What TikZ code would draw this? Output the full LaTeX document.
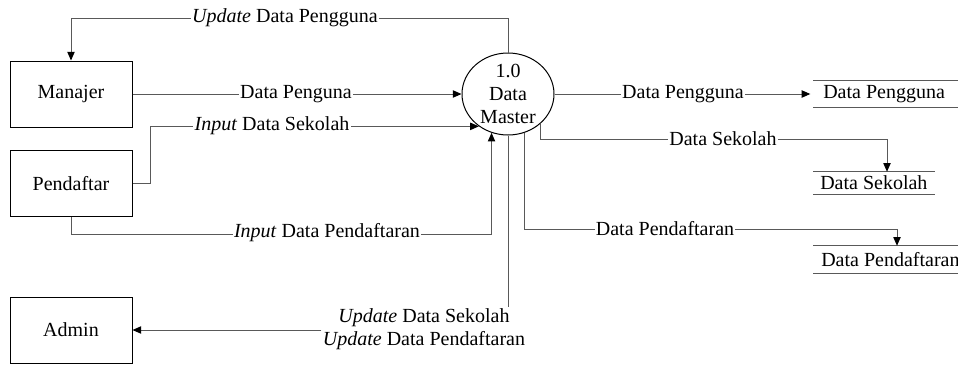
\documentclass[tikz,border=0pt]{standalone}
\usepackage{fontspec}
\setmainfont{Liberation Serif}
\usetikzlibrary{shapes.geometric,arrows.meta}
\begin{document}
\begin{tikzpicture}[x=0.75pt,y=-0.75pt,
  font=\fontsize{15}{17}\selectfont,
  entity/.style={draw=black, line width=0.75pt, rectangle,
    minimum width=91.5pt, minimum height=49.5pt, inner sep=0pt},
  process/.style={draw=black, line width=0.75pt, ellipse,
    minimum width=69pt, minimum height=61.5pt, inner sep=0pt},
  store/.style={rectangle, anchor=west, inner ysep=0pt},
  conn/.style={draw=black!65, line width=0.75pt},
  flow/.style={conn, -{Triangle[length=6.5pt,width=5.5pt,color=black]}},
  lbl/.style={fill=white, inner xsep=1pt, inner ysep=0pt}]
\useasboundingbox (0,0) rectangle (958,365);
\clip (0,0) rectangle (958,365);

% external entities
\node[entity] (man) at (71,94) {Manajer};
\node[entity] (pend) at (71,183.5) {Pendaftar};
\node[entity] (adm) at (71,330) {Admin};

% process
\node[process] (m) at (508,94) {};
\node[align=center, inner sep=0pt] (mt) at (m.center) {1.0\\Data\\Master};

% data stores
\node[store, inner xsep=7.5pt, minimum height=19.5pt] (sp) at (813,94) {Data Pengguna};
\draw[conn] (sp.north west) -- ++(160,0) (sp.south west) -- ++(160,0);
\node[store, inner xsep=5.25pt, minimum height=16.5pt] (ss) at (813,183) {Data Sekolah};
\draw[conn] (ss.north west) -- (ss.north east) (ss.south west) -- (ss.south east);
\node[store, inner xsep=6pt, minimum height=20.25pt] (sd) at (813,259.5) {Data Pendaftaran};
\draw[conn] (sd.north west) -- ++(160,0) (sd.south west) -- ++(160,0);

% flows
\coordinate (t1) at (508,18);
\draw[flow] (m.north) -- (t1) -| (man.north);
\node[lbl] (l1) at (285,18) {\textit{Update} Data Pengguna};

\draw[flow] (man.east) -- (m.west);
\node[lbl] (l2) at (296,94) {Data Penguna};

\draw[flow] (pend.east) -- ++(18,0) |- (m.228);
\node[lbl] (l3) at (272,126) {\textit{Input} Data Sekolah};

\draw[flow] (pend.south) -- ++(0,17) -| (m.247);
\node[lbl] (l4) at (327,233) {\textit{Input} Data Pendaftaran};

\draw[flow, shorten >=2pt] (m.east) -- (sp.west);
\node[lbl] (l5) at (683,94) {Data Pengguna};

\coordinate (k1) at (887,139);
\draw[flow] (m.317) |- (k1) -- (k1 |- ss.north);
\node[lbl] (l6) at (723,139) {Data Sekolah};

\coordinate (k2) at (897,229);
\draw[flow] (m.293) |- (k2) -- (k2 |- sd.north);
\node[lbl] (l7) at (665,229) {Data Pendaftaran};

\node[align=center, inner sep=1pt] (ul) at (424,329)
  {\textit{Update} Data Sekolah\\\textit{Update} Data Pendaftaran};
\draw[conn] (m.south) -- (m.south |- ul.north);
\draw[flow] (ul.west |- adm.east) -- (adm.east);
\end{tikzpicture}
\end{document}
